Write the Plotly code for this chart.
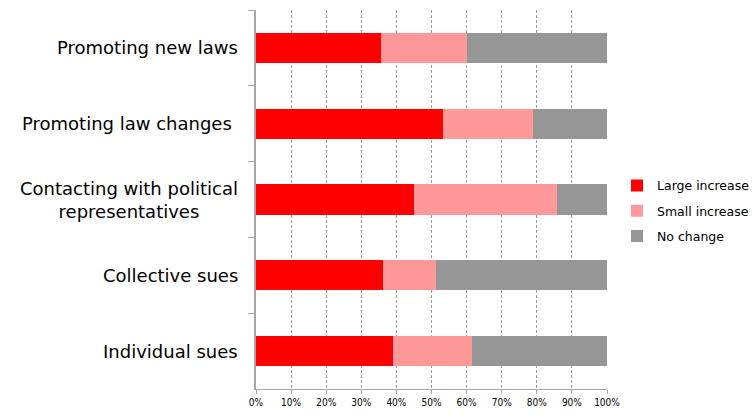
import plotly.graph_objects as go

# Survey: change in use of each activity
activities = [
    "Promoting new laws",
    "Promoting law changes ",
    "Contacting with political<br>representatives",
    "Collective sues",
    "Individual sues",
]
large_increase = [35.6, 53.3, 45.0, 36.2, 38.9]
small_increase = [24.5, 25.5, 40.8, 15.1, 22.5]
no_change = [39.9, 21.2, 14.2, 48.7, 38.6]

series = [
    ("Large increase", large_increase, "#ff0000"),
    ("Small increase", small_increase, "#ff9999"),
    ("No change", no_change, "#969696"),
]

fig = go.Figure()
for name, vals, color in series:
    fig.add_trace(go.Bar(
        y=activities, x=vals, name=name, orientation="h", legendgroup=name,
        marker=dict(color=color, line=dict(width=0)),
    ))

# Category labels drawn as centred annotations to the left of the axis
for act in activities:
    fig.add_annotation(
        x=0, xref="paper", y=act, yref="y", text=act, showarrow=False,
        xanchor="right", xshift=-16, align="center",
        font=dict(family="DejaVu Sans", size=18, color="#000000"),
    )

fig.update_layout(
    width=756, height=416,
    margin=dict(l=256, r=149, t=10, b=27, autoexpand=False),
    barmode="stack", bargap=0.6,
    plot_bgcolor="#ffffff", paper_bgcolor="#ffffff",
    font=dict(family="DejaVu Sans", color="#000000"),
    legend=dict(
        x=1.0285, y=0.47, xanchor="left", yanchor="middle",
        font=dict(family="DejaVu Sans", size=12.5, color="#000000"),
        traceorder="grouped", itemwidth=30, tracegroupgap=6,
    ),
    showlegend=True,
)

fig.update_xaxes(
    range=[0, 100], tickvals=list(range(0, 101, 10)),
    ticktext=[f"{v}%" for v in range(0, 101, 10)],
    showgrid=True, gridcolor="#a0a0a0", griddash="3px,2px", gridwidth=1,
    showline=True, linecolor="#a6a6a6", linewidth=1,
    ticks="outside", ticklen=4, tickcolor="#a6a6a6",
    tickfont=dict(family="DejaVu Sans Condensed", size=10, color="#000000"),
    zeroline=False, fixedrange=True,
)
fig.update_yaxes(
    categoryorder="array", categoryarray=activities, autorange="reversed",
    showticklabels=False, showgrid=False,
    showline=True, linecolor="#a6a6a6", linewidth=2,
    ticks="outside", tickson="boundaries", ticklen=6, tickcolor="#a6a6a6",
    zeroline=False, fixedrange=True,
)

fig.write_html("out.html")
